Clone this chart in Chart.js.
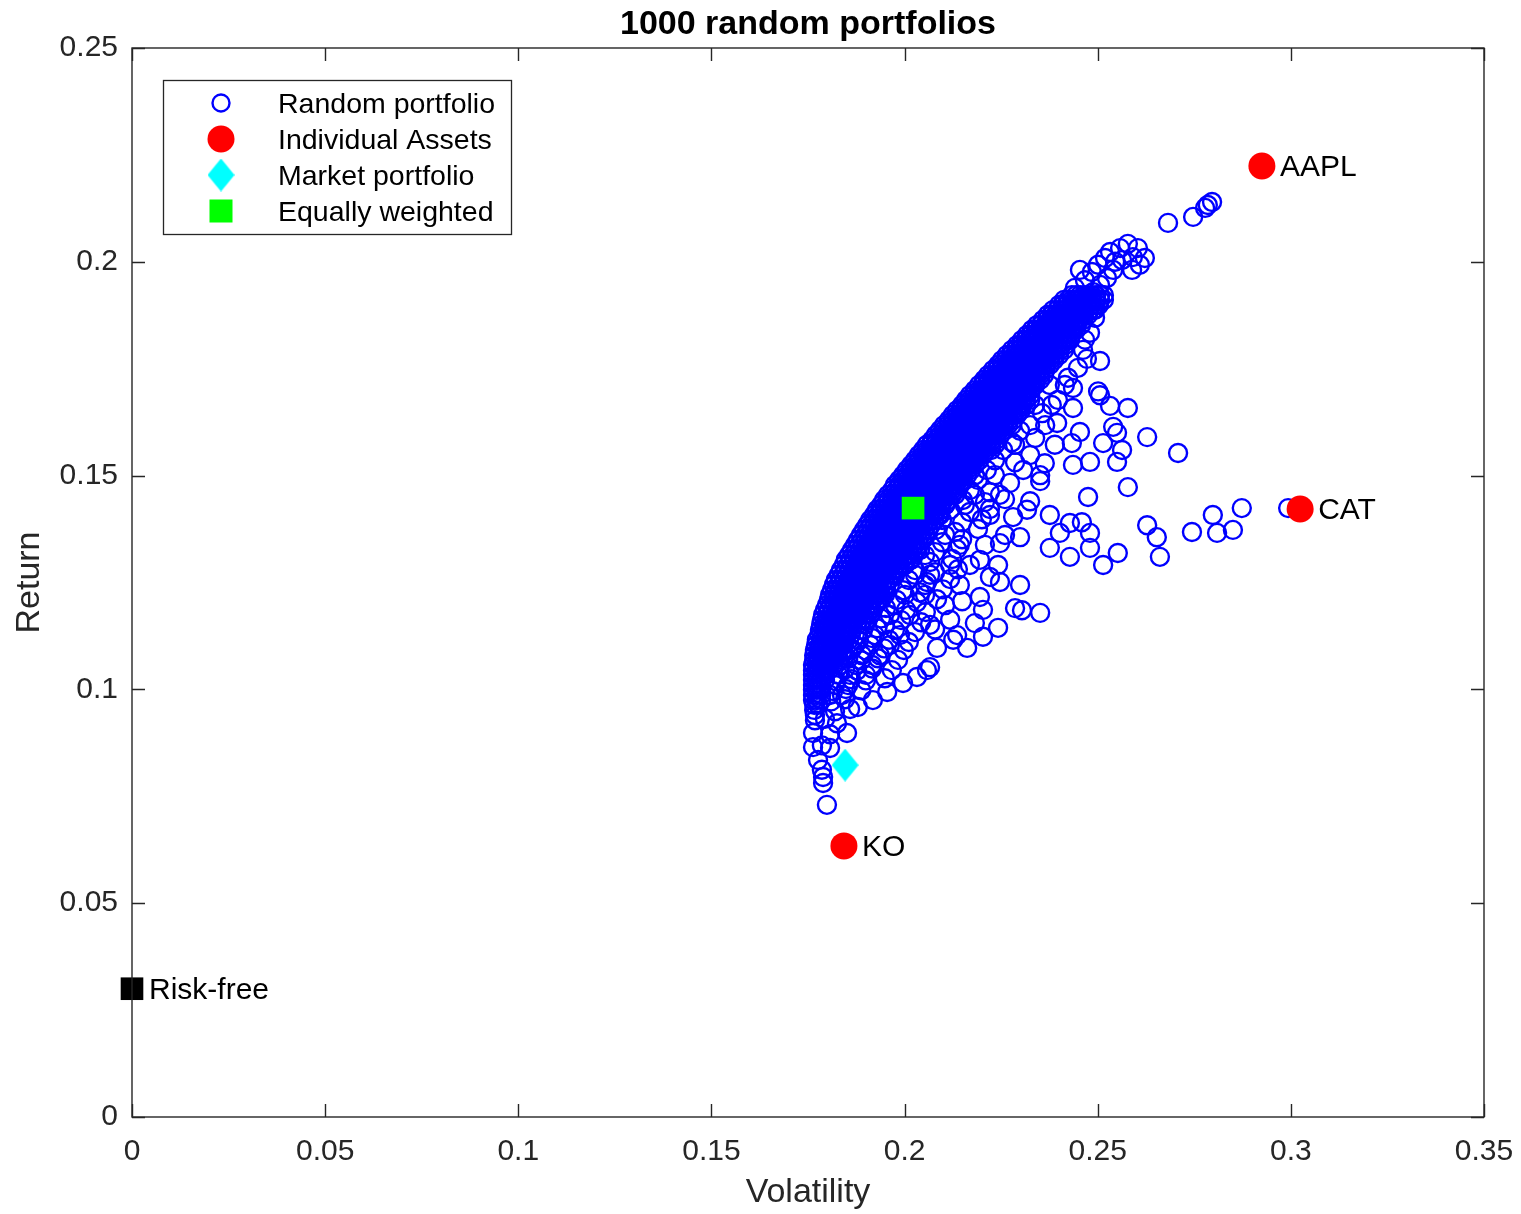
<!DOCTYPE html>
<html>
<head>
<meta charset="utf-8">
<script src="https://cdn.jsdelivr.net/npm/chart.js@4.4.0/dist/chart.umd.min.js"></script>
<style>
html,body{margin:0;padding:0;background:#fff;}
</style>
</head>
<body>
<canvas id="chart" width="1521" height="1214"></canvas>
<script>
// Random portfolios, dense part: each row is [return, volatility, volatility, ...]
const randomRows = [
 [0.1922, 0.2433,0.2444,0.2454,0.2465,0.2475,0.2485,0.2496,0.2506,0.2516],
 [0.1911, 0.2413,0.2423,0.2433,0.2444,0.2454,0.2465,0.2475,0.2485,0.2496,0.2506,0.2516],
 [0.1899, 0.2400,0.2410,0.2421,0.2431,0.2441,0.2452,0.2462,0.2472,0.2483,0.2493,0.2503],
 [0.1887, 0.2384,0.2395,0.2405,0.2415,0.2426,0.2436,0.2446,0.2457,0.2467,0.2478,0.2488],
 [0.1876, 0.2371,0.2382,0.2392,0.2402,0.2413,0.2423,0.2433,0.2444,0.2454,0.2465,0.2475],
 [0.1864, 0.2358,0.2369,0.2379,0.2390,0.2400,0.2410,0.2421,0.2431,0.2441,0.2452,0.2462],
 [0.1852, 0.2343,0.2353,0.2364,0.2374,0.2384,0.2395,0.2405,0.2415,0.2426,0.2436,0.2446,0.2457],
 [0.1841, 0.2330,0.2340,0.2351,0.2361,0.2371,0.2382,0.2392,0.2402,0.2413,0.2423,0.2433,0.2444],
 [0.1829, 0.2317,0.2327,0.2338,0.2348,0.2358,0.2369,0.2379,0.2389,0.2400,0.2410,0.2420,0.2431],
 [0.1817, 0.2304,0.2314,0.2325,0.2335,0.2345,0.2356,0.2366,0.2377,0.2387,0.2397,0.2408,0.2418,0.2428],
 [0.1805, 0.2291,0.2301,0.2312,0.2322,0.2332,0.2343,0.2353,0.2364,0.2374,0.2384,0.2395,0.2405,0.2415],
 [0.1794, 0.2278,0.2289,0.2299,0.2309,0.2320,0.2330,0.2340,0.2351,0.2361,0.2371,0.2382,0.2392,0.2402,0.2413],
 [0.1782, 0.2265,0.2276,0.2286,0.2296,0.2307,0.2317,0.2327,0.2338,0.2348,0.2358,0.2369,0.2379,0.2389,0.2400],
 [0.1770, 0.2252,0.2263,0.2273,0.2283,0.2294,0.2304,0.2314,0.2325,0.2335,0.2345,0.2356,0.2366,0.2377,0.2387],
 [0.1759, 0.2242,0.2252,0.2263,0.2273,0.2283,0.2294,0.2304,0.2314,0.2325,0.2335,0.2345,0.2356,0.2366,0.2376],
 [0.1747, 0.2229,0.2239,0.2250,0.2260,0.2270,0.2281,0.2291,0.2301,0.2312,0.2322,0.2332,0.2343,0.2353,0.2364],
 [0.1735, 0.2216,0.2226,0.2237,0.2247,0.2257,0.2268,0.2278,0.2288,0.2299,0.2309,0.2319,0.2330,0.2340,0.2351,0.2361],
 [0.1724, 0.2206,0.2216,0.2226,0.2237,0.2247,0.2257,0.2268,0.2278,0.2288,0.2299,0.2309,0.2320,0.2330,0.2340,0.2351],
 [0.1712, 0.2193,0.2203,0.2213,0.2224,0.2234,0.2245,0.2255,0.2265,0.2276,0.2286,0.2296,0.2307,0.2317,0.2327,0.2338],
 [0.1700, 0.2182,0.2193,0.2203,0.2213,0.2224,0.2234,0.2244,0.2255,0.2265,0.2276,0.2286,0.2296,0.2307,0.2317,0.2327],
 [0.1688, 0.2169,0.2180,0.2190,0.2200,0.2211,0.2221,0.2232,0.2242,0.2252,0.2263,0.2273,0.2283,0.2294,0.2304,0.2314,0.2325],
 [0.1677, 0.2159,0.2169,0.2180,0.2190,0.2200,0.2211,0.2221,0.2231,0.2242,0.2252,0.2263,0.2273,0.2283,0.2294,0.2304,0.2314,0.2325],
 [0.1665, 0.2149,0.2159,0.2169,0.2180,0.2190,0.2200,0.2211,0.2221,0.2232,0.2242,0.2252,0.2263,0.2273,0.2283,0.2294,0.2304,0.2314],
 [0.1653, 0.2136,0.2146,0.2156,0.2167,0.2177,0.2187,0.2198,0.2208,0.2219,0.2229,0.2239,0.2250,0.2260,0.2270,0.2281,0.2291,0.2301],
 [0.1642, 0.2125,0.2136,0.2146,0.2156,0.2167,0.2177,0.2188,0.2198,0.2208,0.2219,0.2229,0.2239,0.2250,0.2260,0.2270,0.2281,0.2291],
 [0.1630, 0.2115,0.2125,0.2136,0.2146,0.2156,0.2167,0.2177,0.2188,0.2198,0.2208,0.2219,0.2229,0.2239,0.2250,0.2260,0.2270,0.2281],
 [0.1618, 0.2102,0.2113,0.2123,0.2133,0.2144,0.2154,0.2164,0.2175,0.2185,0.2195,0.2206,0.2216,0.2226,0.2237,0.2247,0.2257,0.2268],
 [0.1607, 0.2092,0.2102,0.2112,0.2123,0.2133,0.2144,0.2154,0.2164,0.2175,0.2185,0.2195,0.2206,0.2216,0.2226,0.2237,0.2247,0.2257],
 [0.1595, 0.2081,0.2092,0.2102,0.2112,0.2123,0.2133,0.2143,0.2154,0.2164,0.2175,0.2185,0.2195,0.2206,0.2216,0.2226,0.2237,0.2247],
 [0.1583, 0.2071,0.2081,0.2092,0.2102,0.2112,0.2123,0.2133,0.2144,0.2154,0.2164,0.2175,0.2185,0.2195,0.2206,0.2216,0.2226,0.2237],
 [0.1572, 0.2058,0.2068,0.2079,0.2089,0.2099,0.2110,0.2120,0.2131,0.2141,0.2151,0.2162,0.2172,0.2182,0.2193,0.2203,0.2213,0.2224],
 [0.1560, 0.2048,0.2058,0.2068,0.2079,0.2089,0.2100,0.2110,0.2120,0.2131,0.2141,0.2151,0.2162,0.2172,0.2182,0.2193,0.2203,0.2213,0.2224],
 [0.1548, 0.2037,0.2048,0.2058,0.2068,0.2079,0.2089,0.2099,0.2110,0.2120,0.2131,0.2141,0.2151,0.2162,0.2172,0.2182,0.2193,0.2203],
 [0.1536, 0.2027,0.2037,0.2048,0.2058,0.2068,0.2079,0.2089,0.2099,0.2110,0.2120,0.2130,0.2141,0.2151,0.2162,0.2172,0.2182,0.2193],
 [0.1525, 0.2017,0.2027,0.2037,0.2048,0.2058,0.2068,0.2079,0.2089,0.2099,0.2110,0.2120,0.2131,0.2141,0.2151,0.2162,0.2172,0.2182],
 [0.1513, 0.2006,0.2017,0.2027,0.2037,0.2048,0.2058,0.2068,0.2079,0.2089,0.2099,0.2110,0.2120,0.2131,0.2141,0.2151,0.2162,0.2172],
 [0.1501, 0.1996,0.2006,0.2017,0.2027,0.2037,0.2048,0.2058,0.2068,0.2079,0.2089,0.2099,0.2110,0.2120,0.2131,0.2141,0.2151,0.2162],
 [0.1490, 0.1986,0.1996,0.2006,0.2017,0.2027,0.2037,0.2048,0.2058,0.2068,0.2079,0.2089,0.2100,0.2110,0.2120,0.2131,0.2141,0.2151],
 [0.1478, 0.1975,0.1986,0.1996,0.2006,0.2017,0.2027,0.2037,0.2048,0.2058,0.2068,0.2079,0.2089,0.2100,0.2110,0.2120,0.2131,0.2141],
 [0.1466, 0.1968,0.1978,0.1988,0.1999,0.2009,0.2019,0.2030,0.2040,0.2050,0.2061,0.2071,0.2081,0.2092,0.2102,0.2113,0.2123,0.2133],
 [0.1455, 0.1957,0.1968,0.1978,0.1988,0.1999,0.2009,0.2019,0.2030,0.2040,0.2050,0.2061,0.2071,0.2081,0.2092,0.2102,0.2112,0.2123],
 [0.1443, 0.1947,0.1957,0.1968,0.1978,0.1988,0.1999,0.2009,0.2019,0.2030,0.2040,0.2050,0.2061,0.2071,0.2081,0.2092,0.2102,0.2113],
 [0.1431, 0.1939,0.1949,0.1960,0.1970,0.1980,0.1991,0.2001,0.2012,0.2022,0.2032,0.2043,0.2053,0.2063,0.2074,0.2084,0.2094,0.2105],
 [0.1420, 0.1929,0.1939,0.1949,0.1960,0.1970,0.1980,0.1991,0.2001,0.2011,0.2022,0.2032,0.2043,0.2053,0.2063,0.2074,0.2084,0.2094],
 [0.1408, 0.1921,0.1931,0.1942,0.1952,0.1962,0.1973,0.1983,0.1993,0.2004,0.2014,0.2024,0.2035,0.2045,0.2056,0.2066,0.2076,0.2087],
 [0.1396, 0.1911,0.1921,0.1931,0.1942,0.1952,0.1962,0.1973,0.1983,0.1993,0.2004,0.2014,0.2024,0.2035,0.2045,0.2056,0.2066,0.2076],
 [0.1384, 0.1903,0.1913,0.1923,0.1934,0.1944,0.1955,0.1965,0.1975,0.1986,0.1996,0.2006,0.2017,0.2027,0.2037,0.2048,0.2058,0.2068],
 [0.1373, 0.1895,0.1905,0.1916,0.1926,0.1936,0.1947,0.1957,0.1968,0.1978,0.1988,0.1999,0.2009,0.2019,0.2030,0.2040,0.2050,0.2061],
 [0.1361, 0.1887,0.1898,0.1908,0.1918,0.1929,0.1939,0.1949,0.1960,0.1970,0.1980,0.1991,0.2001,0.2012,0.2022,0.2032,0.2043,0.2053],
 [0.1349, 0.1879,0.1890,0.1900,0.1911,0.1921,0.1931,0.1942,0.1952,0.1962,0.1973,0.1983,0.1993,0.2004,0.2014,0.2024,0.2035,0.2045],
 [0.1338, 0.1872,0.1882,0.1892,0.1903,0.1913,0.1923,0.1934,0.1944,0.1954,0.1965,0.1975,0.1986,0.1996,0.2006,0.2017,0.2027,0.2037],
 [0.1326, 0.1864,0.1874,0.1885,0.1895,0.1905,0.1916,0.1926,0.1936,0.1947,0.1957,0.1967,0.1978,0.1988,0.1999,0.2009,0.2019,0.2030,0.2040],
 [0.1314, 0.1856,0.1867,0.1877,0.1887,0.1898,0.1908,0.1918,0.1929,0.1939,0.1949,0.1960,0.1970,0.1980,0.1991,0.2001,0.2011,0.2022],
 [0.1303, 0.1848,0.1859,0.1869,0.1879,0.1890,0.1900,0.1910,0.1921,0.1931,0.1942,0.1952,0.1962,0.1973,0.1983,0.1993,0.2004,0.2014],
 [0.1291, 0.1843,0.1854,0.1864,0.1874,0.1885,0.1895,0.1905,0.1916,0.1926,0.1936,0.1947,0.1957,0.1968,0.1978,0.1988,0.1999],
 [0.1279, 0.1835,0.1846,0.1856,0.1867,0.1877,0.1887,0.1898,0.1908,0.1918,0.1929,0.1939,0.1949,0.1960,0.1970,0.1980],
 [0.1268, 0.1830,0.1841,0.1851,0.1861,0.1872,0.1882,0.1892,0.1903,0.1913,0.1923,0.1934,0.1944,0.1955,0.1965,0.1975],
 [0.1256, 0.1822,0.1833,0.1843,0.1854,0.1864,0.1874,0.1885,0.1895,0.1905,0.1916,0.1926,0.1936,0.1947,0.1957],
 [0.1244, 0.1817,0.1828,0.1838,0.1848,0.1859,0.1869,0.1879,0.1890,0.1900,0.1911,0.1921,0.1931,0.1942,0.1952],
 [0.1232, 0.1812,0.1823,0.1833,0.1843,0.1854,0.1864,0.1874,0.1885,0.1895,0.1905,0.1916,0.1926,0.1936],
 [0.1221, 0.1807,0.1817,0.1828,0.1838,0.1848,0.1859,0.1869,0.1879,0.1890,0.1900,0.1910,0.1921,0.1931],
 [0.1209, 0.1804,0.1815,0.1825,0.1836,0.1846,0.1856,0.1867,0.1877,0.1887,0.1898,0.1908,0.1918,0.1929],
 [0.1197, 0.1799,0.1810,0.1820,0.1830,0.1841,0.1851,0.1861,0.1872,0.1882,0.1892,0.1903,0.1913,0.1924],
 [0.1186, 0.1794,0.1804,0.1815,0.1825,0.1835,0.1846,0.1856,0.1867,0.1877,0.1887,0.1898,0.1908],
 [0.1174, 0.1789,0.1799,0.1810,0.1820,0.1830,0.1841,0.1851,0.1861,0.1872,0.1882,0.1892],
 [0.1162, 0.1786,0.1797,0.1807,0.1817,0.1828,0.1838,0.1848,0.1859,0.1869,0.1880,0.1890],
 [0.1151, 0.1784,0.1794,0.1804,0.1815,0.1825,0.1836,0.1846,0.1856,0.1867,0.1877],
 [0.1139, 0.1781,0.1792,0.1802,0.1812,0.1823,0.1833,0.1843,0.1854,0.1864],
 [0.1127, 0.1779,0.1789,0.1799,0.1810,0.1820,0.1830,0.1841,0.1851,0.1861],
 [0.1116, 0.1773,0.1784,0.1794,0.1804,0.1815,0.1825,0.1835,0.1846,0.1856],
 [0.1104, 0.1771,0.1781,0.1791,0.1802,0.1812,0.1822,0.1833,0.1843],
 [0.1092, 0.1768,0.1779,0.1789,0.1799,0.1810,0.1820,0.1830,0.1841],
 [0.1080, 0.1766,0.1776,0.1786,0.1797,0.1807,0.1817,0.1828,0.1838],
 [0.1069, 0.1766,0.1776,0.1786,0.1797,0.1807,0.1817,0.1828],
 [0.1057, 0.1763,0.1773,0.1784,0.1794,0.1804,0.1815],
 [0.1045, 0.1763,0.1773,0.1784,0.1794,0.1804],
 [0.1034, 0.1763,0.1773,0.1784,0.1794],
 [0.1022, 0.1763,0.1773,0.1784,0.1794],
 [0.1010, 0.1763,0.1773,0.1784],
 [0.0999, 0.1763,0.1773,0.1784],
 [0.0987, 0.1763,0.1773,0.1784],
 [0.0975, 0.1763,0.1773,0.1784],
 [0.0964, 0.1766,0.1776],
 [0.0952, 0.1766],
 [0.0940, 0.1768],
 [0.0928, 0.1768]
];

// Random portfolios outside the dense band: [volatility, return]
const randomExtras = [
 [0.2682,0.2091],[0.2747,0.2105],[0.2778,0.2126],[0.2785,0.2133],[0.2796,0.2140],
 [0.2558,0.2032],[0.2578,0.2042],[0.2604,0.2032],[0.2591,0.2011],[0.2622,0.2009],[0.2563,0.2004],[0.2532,0.2023],
 [0.2545,0.2000],[0.2519,0.2009],[0.2609,0.1993],[0.2589,0.1981],[0.2540,0.1981],[0.2501,0.1993],[0.2524,0.1962],
 [0.2485,0.1976],[0.2467,0.1957],[0.2506,0.1946],[0.2488,0.1929],[0.2459,0.1918],[0.2441,0.1939],[0.2454,0.1981],
 [0.2493,0.1888],[0.2493,0.1869],[0.2480,0.1834],[0.2467,0.1818],[0.2462,0.1794],[0.2472,0.1773],[0.2506,0.1768],
 [0.2449,0.1752],[0.2423,0.1729],[0.2436,0.1705],[0.2501,0.1697],[0.2397,0.1677],[0.2506,0.1688],
 [0.2356,0.1646],[0.2436,0.1658],[0.2532,0.1663],[0.2578,0.1658],[0.2395,0.1623],[0.2540,0.1614],
 [0.2299,0.1605],[0.2454,0.1602],[0.2550,0.1600],
 [0.2278,0.1578],[0.2338,0.1588],[0.2433,0.1576],[0.2514,0.1576],[0.2628,0.1590],
 [0.2255,0.1560],[0.2563,0.1560],[0.2708,0.1553],
 [0.2234,0.1536],[0.2286,0.1531],[0.2363,0.1529],[0.2436,0.1525],[0.2480,0.1532],[0.2550,0.1532],
 [0.2213,0.1513],[0.2307,0.1513],[0.2190,0.1490],[0.2273,0.1483],[0.2351,0.1487],
 [0.2169,0.1466],[0.2221,0.1461],[0.2475,0.1450],[0.2578,0.1473],
 [0.2151,0.1443],[0.2208,0.1438],[0.2260,0.1445],[0.2325,0.1440],
 [0.2118,0.1420],[0.2169,0.1415],[0.2221,0.1422],[0.2317,0.1420],[0.2873,0.1424],[0.2993,0.1424],
 [0.2097,0.1396],[0.2149,0.1391],[0.2200,0.1398],[0.2281,0.1403],[0.2376,0.1408],[0.2428,0.1389],[0.2459,0.1391],[0.2798,0.1408],[0.2628,0.1384],
 [0.2081,0.1373],[0.2131,0.1368],[0.2190,0.1375],[0.2402,0.1366],[0.2480,0.1366],[0.2653,0.1356],[0.2744,0.1368],[0.2809,0.1366],[0.2850,0.1373],
 [0.2045,0.1349],[0.2097,0.1344],[0.2149,0.1351],[0.2247,0.1342],[0.2299,0.1356],
 [0.2030,0.1326],[0.2079,0.1321],[0.2136,0.1328],[0.2376,0.1331],[0.2480,0.1331],[0.2552,0.1319],
 [0.2017,0.1303],[0.2066,0.1298],[0.2123,0.1305],[0.2195,0.1303],[0.2428,0.1310],[0.2661,0.1310],[0.2514,0.1291],
 [0.1983,0.1283],[0.2027,0.1279],[0.2079,0.1274],[0.2138,0.1281],[0.2242,0.1291],
 [0.1965,0.1260],[0.2011,0.1256],[0.2058,0.1251],[0.2118,0.1258],[0.2221,0.1263],[0.2247,0.1251],[0.2299,0.1244],
 [0.1952,0.1236],[0.1996,0.1232],[0.2040,0.1227],[0.2099,0.1234],[0.2195,0.1216],
 [0.1942,0.1213],[0.1980,0.1209],[0.2032,0.1204],[0.2084,0.1211],[0.2149,0.1206],
 [0.1913,0.1185],[0.1952,0.1190],[0.2004,0.1186],[0.2055,0.1181],[0.2203,0.1186],[0.2286,0.1190],[0.2304,0.1185],[0.2351,0.1179],
 [0.1900,0.1161],[0.1939,0.1166],[0.1991,0.1162],[0.2043,0.1157],[0.2118,0.1163],[0.2182,0.1155],
 [0.1892,0.1138],[0.1929,0.1143],[0.1975,0.1139],[0.2027,0.1134],[0.2079,0.1140],[0.2136,0.1127],[0.2242,0.1144],
 [0.1882,0.1115],[0.1916,0.1120],[0.1960,0.1116],[0.2011,0.1111],[0.2126,0.1116],[0.2203,0.1123],
 [0.1864,0.1094],[0.1900,0.1091],[0.1947,0.1096],[0.1998,0.1092],[0.2084,0.1097],[0.2162,0.1097],
 [0.1854,0.1071],[0.1888,0.1068],[0.1931,0.1073],[0.1983,0.1069],[0.2058,0.1045],
 [0.1846,0.1047],[0.1877,0.1044],[0.1916,0.1049],[0.1967,0.1045],[0.2032,0.1029],[0.2066,0.1052],
 [0.1823,0.1019],[0.1862,0.1024],[0.1900,0.1021],[0.1949,0.1026],[0.1996,0.1015],
 [0.1815,0.0996],[0.1848,0.1001],[0.1888,0.0998],[0.1955,0.0994],
 [0.1810,0.0972],[0.1846,0.0977],[0.1918,0.0975],[0.1879,0.0959],
 [0.1820,0.0949],[0.1859,0.0954],[0.1794,0.0931],[0.1825,0.0921],
 [0.1763,0.0898],[0.1807,0.0895],[0.1851,0.0898],[0.1763,0.0865],[0.1786,0.0869],[0.1807,0.0863],
 [0.1776,0.0835],[0.1786,0.0812],[0.1789,0.0795],[0.1789,0.0781],[0.1799,0.0730],
 [0.2376,0.1712],[0.2415,0.1712],[0.2338,0.1665],[0.2381,0.1665],
 [0.2278,0.1618],[0.2325,0.1618],[0.2364,0.1618],[0.2234,0.1572],[0.2286,0.1572],[0.2389,0.1572],
 [0.2325,0.1548],[0.2182,0.1501],[0.2234,0.1501],[0.2351,0.1501],
 [0.2131,0.1455],[0.2182,0.1455],[0.2247,0.1455],[0.2105,0.1431],[0.2156,0.1431],
 [0.2092,0.1408],[0.2221,0.1408],[0.2053,0.1361],[0.2105,0.1361],[0.2260,0.1361],
 [0.2027,0.1338],[0.2143,0.1338],[0.2208,0.1338],[0.2014,0.1314],[0.2053,0.1314],
 [0.2001,0.1291],[0.2118,0.1291],[0.2169,0.1291],[0.1975,0.1268],[0.2027,0.1268],[0.2066,0.1268],
 [0.1962,0.1244],[0.2053,0.1244],[0.2143,0.1244],[0.1949,0.1221],[0.2001,0.1221],[0.2053,0.1221],
 [0.1923,0.1197],[0.1975,0.1197],[0.2105,0.1197],[0.1911,0.1174],[0.1962,0.1174],[0.2014,0.1174],
 [0.1898,0.1151],[0.1949,0.1151],[0.2066,0.1151],[0.1880,0.1127],[0.1923,0.1127],[0.1988,0.1127],
 [0.1872,0.1104],[0.1911,0.1104],[0.1962,0.1104],[0.1846,0.1080],[0.1890,0.1080],[0.1936,0.1080],
 [0.1833,0.1057],[0.1874,0.1057],[0.1916,0.1057],[0.1828,0.1034],[0.1859,0.1034],[0.1900,0.1034],
 [0.1820,0.1010],[0.1854,0.1010],[0.1807,0.0987],[0.1838,0.0987]
];

// Individual assets
const assetNames = ["AAPL", "CAT", "KO"];
const assetVol = [0.2925, 0.3024, 0.1843];
const assetRet = [0.2224, 0.1422, 0.0634];

// Market portfolio, equally weighted, risk-free
const marketVol = [0.1846];
const marketRet = [0.0823];
const equalVol = [0.2022];
const equalRet = [0.1424];
const riskFreeName = "Risk-free";
const riskFreeVol = [0];
const riskFreeRet = [0.03];

// Axes
const xTicks = [0, 0.05, 0.1, 0.15, 0.2, 0.25, 0.3, 0.35];
const yTicks = [0, 0.05, 0.1, 0.15, 0.2, 0.25];
const chartTitle = "1000 random portfolios";
const xTitle = "Volatility";
const yTitle = "Return";

const FONT = '"Liberation Sans", Arial, Helvetica, sans-serif';
const AXIS = '#262626';
const BLUE = '#0000ff';

function makeDiamond(w, h, color) {
    let c = document.createElement('canvas');
    c.width = w; c.height = h;
    let g = c.getContext('2d');
    g.fillStyle = color;
    g.beginPath();
    g.moveTo(w / 2, 0); g.lineTo(w, h / 2); g.lineTo(w / 2, h); g.lineTo(0, h / 2);
    g.closePath(); g.fill();
    return c;
}
const diamond = makeDiamond(27, 33, '#00ffff');

function fmt(v) { return String(Math.round(v * 100) / 100); }
function pts(xs, ys) { return xs.map((v, i) => ({ x: v, y: ys[i] })); }

let randomData = randomRows.flatMap(r => r.slice(1).map(v => ({ x: v, y: r[0] })))
    .concat(randomExtras.map(p => ({ x: p[0], y: p[1] })));

// box, inward ticks, labels, title, legend
const overlay = {
    id: 'overlay',
    afterDraw(chart) {
        const { ctx, chartArea: a, scales: { x, y } } = chart;
        ctx.save();
        ctx.strokeStyle = AXIS;
        ctx.lineWidth = 1.4;
        ctx.strokeRect(a.left, a.top, a.right - a.left, a.bottom - a.top);
        ctx.beginPath();
        xTicks.forEach(v => {
            let px = Math.round(x.getPixelForValue(v)) + 0.5;
            ctx.moveTo(px, a.bottom); ctx.lineTo(px, a.bottom - 13);
            ctx.moveTo(px, a.top); ctx.lineTo(px, a.top + 13);
        });
        yTicks.forEach(v => {
            let py = Math.round(y.getPixelForValue(v)) + 0.5;
            ctx.moveTo(a.left, py); ctx.lineTo(a.left + 13, py);
            ctx.moveTo(a.right, py); ctx.lineTo(a.right - 13, py);
        });
        ctx.stroke();

        // point labels
        ctx.fillStyle = '#000';
        ctx.font = '30px ' + FONT;
        ctx.textAlign = 'left';
        ctx.textBaseline = 'middle';
        assetNames.forEach((n, i) => {
            ctx.fillText(n, x.getPixelForValue(assetVol[i]) + 18, y.getPixelForValue(assetRet[i]) + 2);
        });
        ctx.fillText(riskFreeName, x.getPixelForValue(riskFreeVol[0]) + 17, y.getPixelForValue(riskFreeRet[0]) + 2);

        // title and axis titles
        let cx = (a.left + a.right) / 2;
        ctx.textAlign = 'center';
        ctx.font = 'bold 34px ' + FONT;
        ctx.fillText(chartTitle, cx, 25);
        ctx.fillStyle = AXIS;
        ctx.font = '34px ' + FONT;
        ctx.fillText(xTitle, cx, 1193);
        ctx.save();
        ctx.translate(30, (a.top + a.bottom) / 2);
        ctx.rotate(-Math.PI / 2);
        ctx.fillText(yTitle, 0, 0);
        ctx.restore();

        // legend
        ctx.fillStyle = '#fff';
        ctx.fillRect(163, 80, 348, 154);
        ctx.strokeStyle = AXIS;
        ctx.lineWidth = 1.3;
        ctx.strokeRect(163.5, 80.5, 348, 154);
        const ds = chart.data.datasets;
        const rowY = [103, 139, 175, 211];
        const mx = 221;
        ctx.strokeStyle = BLUE; ctx.lineWidth = 2.4;
        ctx.beginPath(); ctx.arc(mx, rowY[0], 8.5, 0, Math.PI * 2); ctx.stroke();
        ctx.fillStyle = '#ff0000';
        ctx.beginPath(); ctx.arc(mx, rowY[1], 13.5, 0, Math.PI * 2); ctx.fill();
        ctx.drawImage(diamond, mx - diamond.width / 2, rowY[2] - diamond.height / 2);
        ctx.fillStyle = '#00ff00';
        ctx.fillRect(mx - 11.5, rowY[3] - 11.5, 23, 23);
        ctx.fillStyle = '#000';
        ctx.font = '28.5px ' + FONT;
        ctx.textAlign = 'left';
        for (let i = 0; i < 4; i++) ctx.fillText(ds[i].label, 278, rowY[i] + 2);
        ctx.restore();
    }
};

new Chart(document.getElementById('chart'), {
    type: 'scatter',
    data: {
        datasets: [
            { label: 'Random portfolio', data: randomData,
              pointStyle: 'circle', pointRadius: 9, borderWidth: 2.4, borderColor: BLUE,
              backgroundColor: 'rgba(0,0,0,0)', order: 5 },
            { label: 'Individual Assets', data: pts(assetVol, assetRet),
              pointRadius: 13.5, borderWidth: 0, backgroundColor: '#ff0000', order: 1 },
            { label: 'Market portfolio', data: pts(marketVol, marketRet),
              pointStyle: diamond, pointRadius: 14, order: 1 },
            { label: 'Equally weighted', data: pts(equalVol, equalRet),
              pointStyle: 'rect', pointRadius: 16, borderWidth: 0, backgroundColor: '#00ff00', order: 1 },
            { label: riskFreeName, data: pts(riskFreeVol, riskFreeRet),
              pointStyle: 'rect', pointRadius: 16, borderWidth: 0, backgroundColor: '#000000', order: 1, clip: false }
        ]
    },
    options: {
        responsive: false,
        animation: false,
        devicePixelRatio: 1,
        layout: { padding: { top: 48, right: 37, left: 0, bottom: 0 } },
        plugins: { legend: { display: false }, tooltip: { enabled: false } },
        scales: {
            x: {
                type: 'linear', min: 0, max: 0.35,
                afterBuildTicks: s => { s.ticks = xTicks.map(v => ({ value: v })); },
                afterFit: s => { s.height = 97; s.paddingLeft = 0; s.paddingRight = 0; },
                grid: { display: false, drawTicks: false },
                border: { display: false },
                ticks: { font: { family: FONT, size: 30 }, color: AXIS, padding: 17, maxRotation: 0, callback: v => fmt(v) }
            },
            y: {
                type: 'linear', min: 0, max: 0.25,
                afterBuildTicks: s => { s.ticks = yTicks.map(v => ({ value: v })); },
                afterFit: s => { s.width = 132; s.paddingTop = 0; s.paddingBottom = 0; },
                grid: { display: false, drawTicks: false },
                border: { display: false },
                ticks: { font: { family: FONT, size: 30 }, color: AXIS, padding: 14, callback: v => fmt(v) }
            }
        }
    },
    plugins: [overlay]
});
</script>
</body>
</html>
